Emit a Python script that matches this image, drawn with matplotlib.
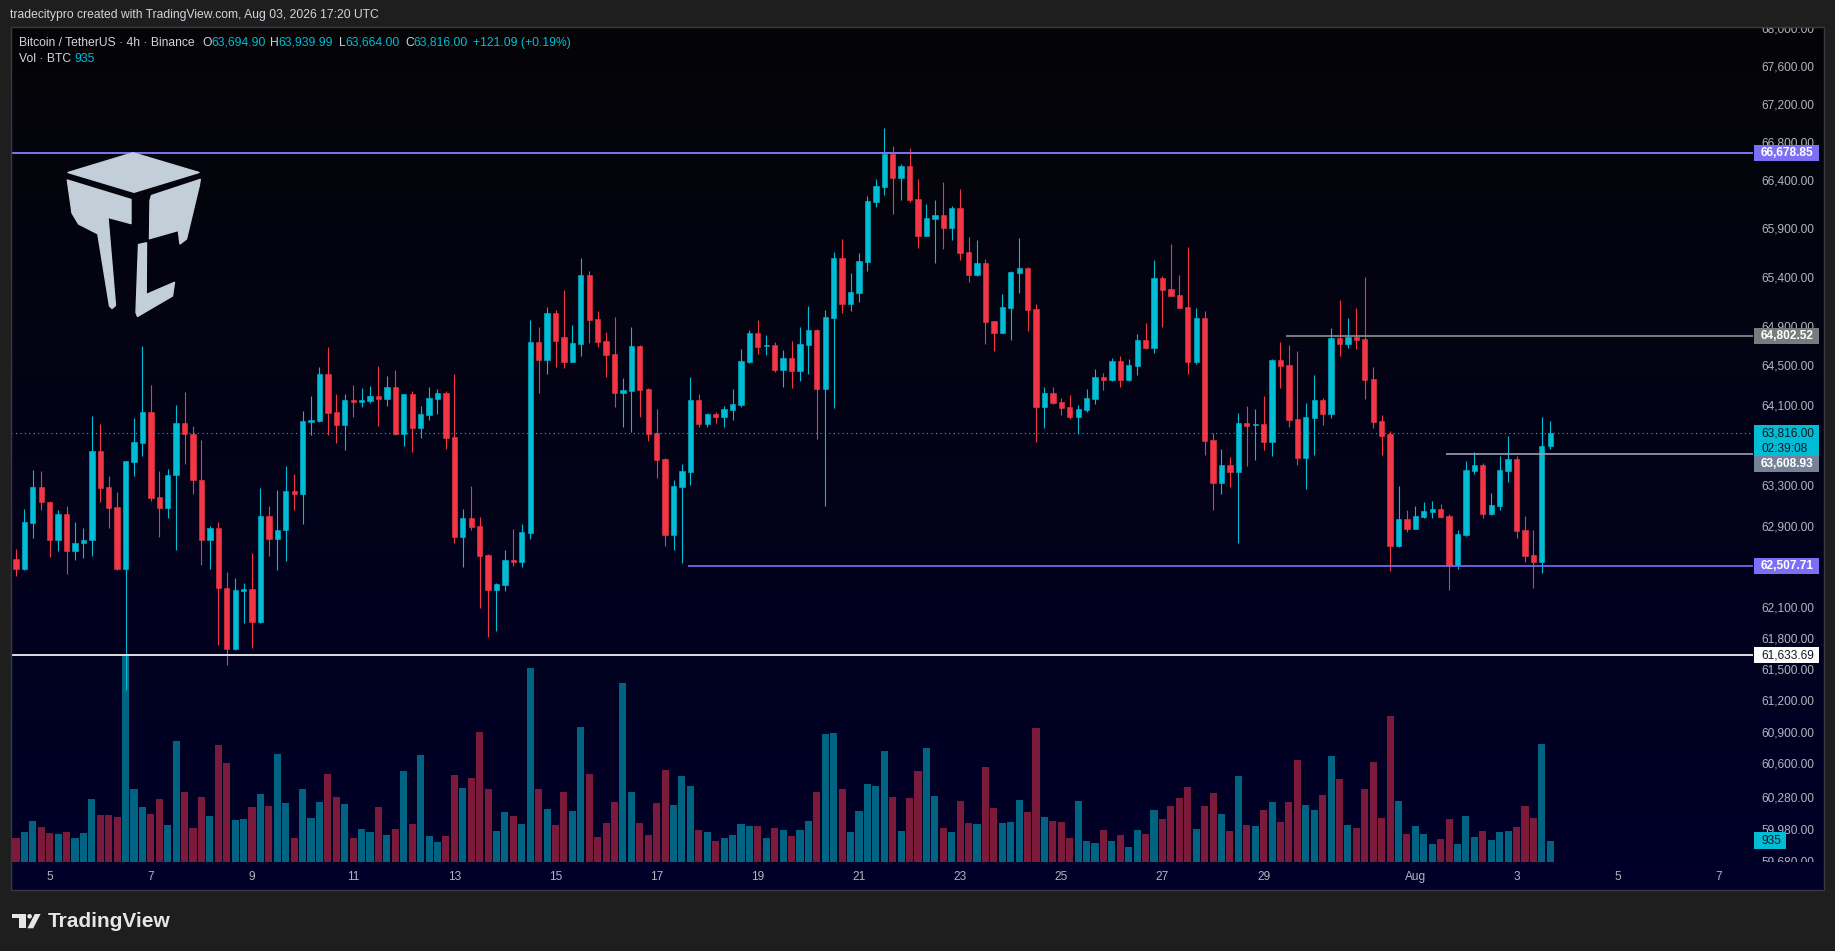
import numpy as np
import pandas as pd
import matplotlib
matplotlib.use("Agg")
import matplotlib.pyplot as plt
import matplotlib.ticker as mticker
from matplotlib.patches import Rectangle, Polygon, Circle
from matplotlib.transforms import Affine2D, Bbox, TransformedBbox
from matplotlib.colors import LinearSegmentedColormap

plt.rcParams['font.family'] = ['Liberation Sans', 'DejaVu Sans']

# ------------------------ data: BTC/USDT 4h candles ------------------------
start_time = pd.Timestamp("2026-07-04 08:00")

opens = [
    62573, 62471, 62929, 63286, 63135, 62755, 63018, 62648, 62727, 62755,
    63640, 63286, 63084, 62471, 63532, 63721, 64030, 63187, 63070, 63399,
    63921, 63811, 63352, 62755, 62877, 62290, 61694, 62262, 62280, 61961,
    62999, 62769, 62853, 63243, 63215, 63935, 63940, 64412, 64030, 63902,
    64154, 64135, 64144, 64192, 64163, 64283, 63806, 64207, 63873, 64001,
    64163, 64221, 63778, 62788, 62976, 62896, 62611, 62271, 62317, 62564,
    62545, 62830, 64739, 64556, 65034, 64787, 64537, 64720, 65423, 64971,
    64749, 64619, 64221, 64245, 64696, 64264, 63816, 63565, 62811, 63286,
    63432, 64154, 63911, 64011, 63982, 64054, 64101, 64537, 64831, 64696,
    64706, 64455, 64575, 64446, 64706, 64860, 64264, 64981, 65598, 65126,
    65238, 65554, 66174, 66331, 66672, 66425, 66548, 66208, 65824, 66001,
    66040, 65907, 66114, 65657, 65423, 65544, 64952, 64831, 65082, 65442,
    65496, 65073, 64082, 64221, 64130, 64082, 63982, 64054, 64163, 64384,
    64355, 64546, 64355, 64494, 64759, 64676, 65389, 65277, 65219, 65092,
    64537, 64981, 63750, 63324, 63503, 63432, 63921, 63897, 63911, 63730,
    64556, 64503, 63963, 63574, 63973, 64154, 64011, 64778, 64720, 64787,
    64768, 64364, 63940, 63806, 62699, 62966, 62868, 62985, 63037, 63065,
    62999, 62513, 62811, 63442, 63503, 63018, 63098, 63442, 63565, 62858,
    62611, 62545, 63694.90,
]
highs = [
    62671, 63060, 63451, 63442, 63140, 63051, 63098, 62938, 62877, 63992,
    63911, 63395, 63234, 63545, 63973, 64696, 64302, 63442, 63461, 64101,
    64235, 63892, 63750, 62896, 62938, 62448, 62387, 62341, 62634, 63272,
    63098, 63253, 63494, 63414, 64044, 64192, 64484, 64686, 64207, 64207,
    64302, 64273, 64292, 64494, 64393, 64455, 64210, 64240, 64091, 64283,
    64264, 64240, 64412, 63065, 63296, 62985, 62625, 62336, 62662, 62868,
    62919, 64962, 64889, 65092, 65063, 65267, 64913, 65598, 65462, 65053,
    64841, 64991, 64374, 64889, 64706, 64273, 64063, 63574, 63352, 63513,
    64384, 64207, 64020, 64030, 64091, 64264, 64667, 64860, 64962, 64807,
    64739, 64657, 64749, 64889, 65106, 64865, 65063, 65657, 65794, 65442,
    65647, 66237, 66415, 66945, 66757, 66568, 66737, 66415, 66154, 66198,
    66385, 66134, 66311, 65814, 65780, 65584, 64952, 65228, 65462, 65804,
    65505, 65126, 64283, 64283, 64173, 64202, 64101, 64264, 64465, 64427,
    64575, 64595, 64566, 64821, 64933, 65574, 65413, 65740, 65423, 65711,
    65082, 65053, 63821, 63664, 63584, 64020, 64091, 64063, 64192, 64566,
    64739, 64706, 64648, 64120, 64403, 64173, 64879, 65165, 64981, 65082,
    65403, 64484, 64001, 63840, 63296, 63056, 63098, 63135, 63145, 63117,
    63018, 62858, 63541, 63631, 63522, 63225, 63593, 63792, 63593, 62999,
    62858, 63982, 63939.99,
]
lows = [
    62406, 62460, 62779, 63051, 62592, 62652, 62429, 62564, 62583, 62606,
    63131, 62877, 62465, 61300, 63390, 63588, 63145, 62788, 62976, 62662,
    63508, 63215, 62513, 62471, 61735, 61538, 61690, 61952, 61703, 61952,
    62601, 62462, 62555, 63051, 62919, 63797, 63935, 63797, 63721, 63650,
    63982, 64077, 64120, 63892, 64087, 63800, 63693, 63631, 63773, 63954,
    64011, 63664, 62732, 62494, 62858, 62095, 61813, 61869, 62262, 62504,
    62494, 62769, 64221, 64412, 64484, 64475, 64530, 64595, 64730, 64686,
    64384, 64082, 63883, 63830, 63982, 63740, 63376, 62699, 62662, 62536,
    63305, 63883, 63883, 63921, 63883, 63954, 64082, 64527, 64619, 64604,
    64436, 64283, 64273, 64345, 64412, 63764, 63098, 64073, 65034, 65053,
    65146, 65462, 66124, 66247, 66050, 66198, 66174, 65701, 65820, 65544,
    65686, 65780, 65574, 65350, 65413, 64720, 64648, 64831, 64759, 65238,
    64851, 63730, 63873, 64110, 64001, 63963, 63806, 64030, 64110, 64254,
    64345, 64283, 64345, 64403, 64667, 64628, 64889, 65205, 65080, 64412,
    64518, 63602, 63056, 63215, 63286, 62732, 63494, 63550, 63650, 63593,
    64273, 63883, 63503, 63263, 63602, 63902, 63973, 64595, 64676, 64667,
    64163, 63873, 63602, 62457, 62695, 62840, 62865, 62980, 62976, 62980,
    62271, 62476, 62797, 63414, 62976, 63008, 63056, 63334, 62779, 62545,
    62290, 62439, 63664.00,
]
closes = [
    62471, 62938, 63286, 63131, 62755, 63018, 62648, 62732, 62760, 63640,
    63272, 63074, 62471, 63541, 63730, 64030, 63173, 63070, 63404, 63921,
    63806, 63348, 62755, 62877, 62285, 61694, 62271, 62280, 61961, 62999,
    62769, 62858, 63243, 63215, 63940, 63954, 64412, 64020, 63902, 64154,
    64135, 64154, 64192, 64163, 64283, 63806, 64207, 63873, 64011, 64173,
    64221, 63773, 62788, 62976, 62887, 62601, 62271, 62327, 62564, 62545,
    62840, 64739, 64556, 65034, 64745, 64537, 64730, 65423, 64962, 64739,
    64604, 64221, 64254, 64696, 64254, 63806, 63550, 62811, 63296, 63442,
    64154, 63911, 64011, 63982, 64063, 64110, 64546, 64831, 64686, 64706,
    64455, 64575, 64446, 64720, 64860, 64264, 64991, 65598, 65126, 65248,
    65563, 66188, 66341, 66672, 66425, 66548, 66198, 65824, 66011, 66040,
    65907, 66114, 65647, 65423, 65544, 64942, 64831, 65092, 65452, 65496,
    65063, 64082, 64221, 64120, 64073, 63982, 64063, 64173, 64384, 64355,
    64546, 64355, 64503, 64759, 64676, 65389, 65267, 65209, 65082, 64537,
    64981, 63740, 63324, 63503, 63432, 63921, 63892, 63911, 63730, 64556,
    64494, 63954, 63574, 63982, 64154, 64011, 64778, 64720, 64787, 64759,
    64355, 63930, 63792, 62699, 62966, 62868, 62999, 63046, 63065, 62985,
    62513, 62821, 63451, 63503, 63018, 63107, 63451, 63565, 62849, 62601,
    62545, 63694.91, 63816.00,
]
volumes = [
    1060, 1309, 1808, 1538, 1268, 1226, 1309, 1060, 1268, 2764,
    2057, 2057, 1974, 9102, 3200, 2410, 2099, 2764, 1621, 5299,
    3075, 1496, 2847, 2016, 5133, 4343, 1849, 1891, 2410, 2972,
    2452, 4738, 2577, 1060, 3200, 1933, 2639, 3865, 2847, 2535,
    1060, 1455, 1309, 2410, 1184, 1455, 3990, 1662, 4696, 1143,
    873, 1143, 3803, 3242, 3678, 5694, 3200, 1371, 2203, 2016,
    1662, 8499, 3200, 2327, 1621, 3075, 2244, 5902, 3865, 1101,
    1704, 2639, 7834, 3075, 1704, 1184, 2577, 4031, 2494, 3761,
    3325, 1413, 1309, 935, 1060, 1184, 1662, 1579, 1579, 1060,
    1496, 1413, 1143, 1413, 1808, 3075, 5611, 5652, 3200, 1309,
    2244, 3408, 3325, 4863, 2847, 1371, 2805, 3990, 4987, 2888,
    1496, 1309, 2681, 1704, 1662, 4156, 2369, 1704, 1766, 2722,
    2203, 5860, 1974, 1808, 1766, 1060, 2681, 935, 831, 1413,
    935, 1184, 665, 1413, 1226, 2286, 1891, 2452, 2805, 3283,
    1455, 2452, 3034, 2099, 1371, 3761, 1621, 1579, 2286, 2639,
    1766, 2639, 4468, 2494, 2286, 2930, 4634, 3637, 1621, 1496,
    3200, 4385, 1933, 6400, 2681, 1226, 1579, 1226, 790, 1018,
    1891, 790, 2016, 1101, 1371, 977, 1309, 1371, 1538, 2452,
    1933, 5174, 935,
]

# drawn horizontal levels: price, first candle index of the line (None = full width)
level_prices = [66678.85, 64802.52, 63608.93, 62507.71, 61633.69]
level_starts = [None, 150.6, 169.6, 79.7, None]
level_colors = ['#7b6ff5', '#8c9090', '#9aa1b0', '#7b6ff5', '#d8d8dc']
level_tag_colors = ['#7b6ff5', '#787c7d', '#768298', '#7b6ff5', '#ffffff']
level_text_colors = ['white', 'white', 'white', 'white', '#131722']

price_ticks = [68000, 67600, 67200, 66800, 66400, 65900, 65400, 64900, 64500, 64100,
               63300, 62900, 62100, 61800, 61500, 61200, 60900, 60600, 60280, 59980, 59680]

time_ticks = ["2026-07-05", "2026-07-07", "2026-07-09", "2026-07-11", "2026-07-13",
              "2026-07-15", "2026-07-17", "2026-07-19", "2026-07-21", "2026-07-23",
              "2026-07-25", "2026-07-27", "2026-07-29", "2026-08-01", "2026-08-03",
              "2026-08-05", "2026-08-07"]
time_labels = ["5", "7", "9", "11", "13", "15", "17", "19", "21", "23", "25", "27", "29",
               "Aug", "3", "5", "7"]

# ------------------------ styling ------------------------
W, H = 1835, 951
UP, DOWN = '#00bcd4', '#f23645'
VOL_UP, VOL_DOWN = '#006382', '#7c1a3b'
TEXT = '#d1d4dc'
AXIS_TEXT = '#b2b5be'
FS = 8.6

fig = plt.figure(figsize=(W / 100, H / 100), dpi=100)
fig.patch.set_facecolor('#1e1e1e')
# pixel coordinates (origin top-left) -> figure
fig_tr = Affine2D().scale(1 / W, -1 / H).translate(0, 1) + fig.transFigure


def rect(x0, y0, x1, y1):
    return [x0 / W, 1 - y1 / H, (x1 - x0) / W, (y1 - y0) / H]


# gradient background of the chart frame
ax_bg = fig.add_axes(rect(11, 27, 1824, 890), zorder=0)
grad_cmap = LinearSegmentedColormap.from_list('bg', ['#050507', '#000029'])
ax_bg.imshow(np.linspace(0, 1, 256).reshape(-1, 1), aspect='auto', cmap=grad_cmap,
             extent=[0, 1, 0, 1])
ax_bg.set_axis_off()

price_rect = rect(11, 27, 1753, 862)
ax_vol = fig.add_axes(price_rect, zorder=1)
ax = fig.add_axes(price_rect, zorder=2)
for a in (ax_vol, ax):
    a.patch.set_visible(False)
    for s in a.spines.values():
        s.set_visible(False)

n = len(closes)
x = np.arange(n)
o = np.array(opens)
c = np.array(closes)
hi = np.array(highs)
lo = np.array(lows)
up = c >= o
candle_cols = np.where(up, UP, DOWN)
vol_cols = np.where(up, VOL_UP, VOL_DOWN)

xlim = (-0.59, 206.05)

# volume overlay
ax_vol.bar(x, volumes, width=0.84, color=vol_cols, linewidth=0)
ax_vol.set_xlim(*xlim)
ax_vol.set_ylim(0, max(volumes) * 4.01)
ax_vol.set_axis_off()

# candles
ax.set_yscale('log')
ax.vlines(x, lo, hi, colors=candle_cols, linewidth=0.8, zorder=3)
ax.bar(x, np.abs(c - o), bottom=np.minimum(o, c), width=0.63, color=candle_cols,
       edgecolor=candle_cols, linewidth=0.4, zorder=4)
ax.set_xlim(*xlim)
ax.set_ylim(59670, 68014)

# levels
for p, st, col in zip(level_prices, level_starts, level_colors):
    ax.hlines(p, xlim[0] if st is None else st, xlim[1], colors=col,
              linewidth=1.45 if st is None else 1.2, zorder=5)
ax.axhline(closes[-1], color=UP, linewidth=0.8, linestyle=(0, (1, 3)), zorder=5)

# axes ticks
ax.yaxis.set_major_locator(mticker.FixedLocator(price_ticks))
ax.yaxis.set_minor_locator(mticker.NullLocator())
ax.yaxis.set_major_formatter(mticker.FuncFormatter(lambda v, _: f"{v:,.2f}"))
ax.tick_params(axis='y', which='both', left=False, labelleft=False, right=False,
               labelright=True, length=0, pad=6.2, labelsize=FS, labelcolor=AXIS_TEXT)

tick_pos = (pd.to_datetime(time_ticks) - start_time) / pd.Timedelta(hours=4)
ax.set_xticks(tick_pos, time_labels)
ax.tick_params(axis='x', length=0, pad=6.3, labelsize=FS, labelcolor=AXIS_TEXT)

clip = TransformedBbox(Bbox.from_extents(11 / W, 1 - 862 / H, 1824 / W, 1 - 27 / H),
                       fig.transFigure)
for t in ax.yaxis.get_major_ticks():
    t.label2.set_clip_box(clip)
    t.label2.set_clip_on(True)


def price_y(p):
    return H - ax.transData.transform((0, p))[1]


def tag(y0, y1, x1, face, txt_lines, txt_col, weight='bold'):
    fig.add_artist(Rectangle((1754, y0), x1 - 1754, y1 - y0, transform=fig_tr,
                             facecolor=face, edgecolor='none', zorder=10))
    step = (y1 - y0) / len(txt_lines)
    for k, s in enumerate(txt_lines):
        fig.text(1761 / W, 1 - (y0 + step * (k + 0.5)) / H, s, color=txt_col,
                 fontsize=FS, fontweight=weight, va='center', ha='left', zorder=11)


for p, face, tc in zip(level_prices, level_tag_colors, level_text_colors):
    yy = price_y(p)
    if p == 63608.93:
        yy = max(yy, price_y(closes[-1]) + 31)
    tag(yy - 8, yy + 8, 1819, face, [f"{p:,.2f}"], tc,
        'normal' if face == '#ffffff' else 'bold')

yc = price_y(closes[-1])
tag(yc - 8, yc + 23, 1819, UP, [f"{closes[-1]:,.2f}", "02:39:08"], '#131722', 'normal')

yv = H - ax_vol.transData.transform((0, volumes[-1]))[1]
tag(yv - 8.5, yv + 8.5, 1786, UP, [f"{volumes[-1]:,}"], '#131722', 'normal')

# frame border
fig.add_artist(Rectangle((11, 27), 1813, 863, transform=fig_tr, fill=False,
                         edgecolor='#363a45', linewidth=1, zorder=12))

# header and legend
fig.text(10 / W, 1 - 15 / H, "tradecitypro created with TradingView.com, Aug 03, 2026 17:20 UTC",
         color=TEXT, fontsize=8.7, va='center', ha='left')
fig.text(18.6 / W, 1 - 42.7 / H, "Bitcoin / TetherUS · 4h · Binance", color=TEXT,
         fontsize=8.7, va='center', ha='left')
ohlc = [("O", opens[-1], 202), ("H", highs[-1], 270), ("L", lows[-1], 339), ("C", closes[-1], 405)]
for letter, val, xpos in ohlc:
    t = fig.text(xpos / W, 1 - 42.7 / H, letter, color=TEXT, fontsize=8.7, va='center', ha='left')
    ax_bg.annotate(f"{val:,.2f}", xy=(1, 0), xycoords=t, va='bottom', ha='left',
                   color=UP, fontsize=8.7, annotation_clip=False)
chg = closes[-1] - closes[-2]
fig.text(472.5 / W, 1 - 42.7 / H, f"+{chg:,.2f} (+{chg / closes[-2] * 100:.2f}%)", color=UP,
         fontsize=8.7, va='center', ha='left')
fig.text(18.6 / W, 1 - 59.3 / H, "Vol · BTC", color=TEXT, fontsize=8.7, va='center', ha='left')
fig.text(74 / W, 1 - 59.3 / H, f"{volumes[-1]:,}", color=UP, fontsize=8.7, va='center', ha='left')

# TC watermark logo
logo_col = '#c3cfd8'
logo_parts = [
    [(68, 172.5), (133, 152.8), (199, 172.5), (134, 192.3)],
    [(67.3, 180), (131, 199.5), (131, 223.6), (108, 217.4), (115.5, 305.5), (112, 308.5),
     (109.5, 306), (97.8, 233.8), (78.5, 224), (72, 213)],
    [(151.5, 195.5), (200.3, 179.4), (199.3, 185.5), (186.5, 239), (180, 244), (178.3, 230.5),
     (149.5, 238.7), (150, 200.6)],
    [(138.5, 244.5), (146.5, 242.8), (146.2, 294.5), (174.5, 282.3), (172.5, 296),
     (137.5, 316.5), (136, 312.5)],
]
for pts in logo_parts:
    fig.add_artist(Polygon(pts, closed=True, transform=fig_tr, facecolor=logo_col,
                           edgecolor=logo_col, linewidth=1, joinstyle='round', zorder=6))

# TradingView footer mark
foot = '#e6e6e6'
fig.add_artist(Polygon([(11.7, 914), (26.4, 914), (26.4, 928.3), (18.8, 928.3), (18.8, 917.6),
                        (11.7, 917.6)], transform=fig_tr, facecolor=foot, edgecolor='none'))
fig.add_artist(Circle((29.6, 916.3), 2.3, transform=fig_tr, facecolor=foot, edgecolor='none'))
fig.add_artist(Polygon([(34.8, 914), (40.6, 914), (33.2, 928.3), (27.4, 928.3)],
                       transform=fig_tr, facecolor=foot, edgecolor='none'))
fig.text(48 / W, 1 - 921.5 / H, "TradingView", color=foot, fontsize=15, fontweight='bold',
         va='center', ha='left')

fig.savefig("out.png", dpi=100, facecolor=fig.get_facecolor())
